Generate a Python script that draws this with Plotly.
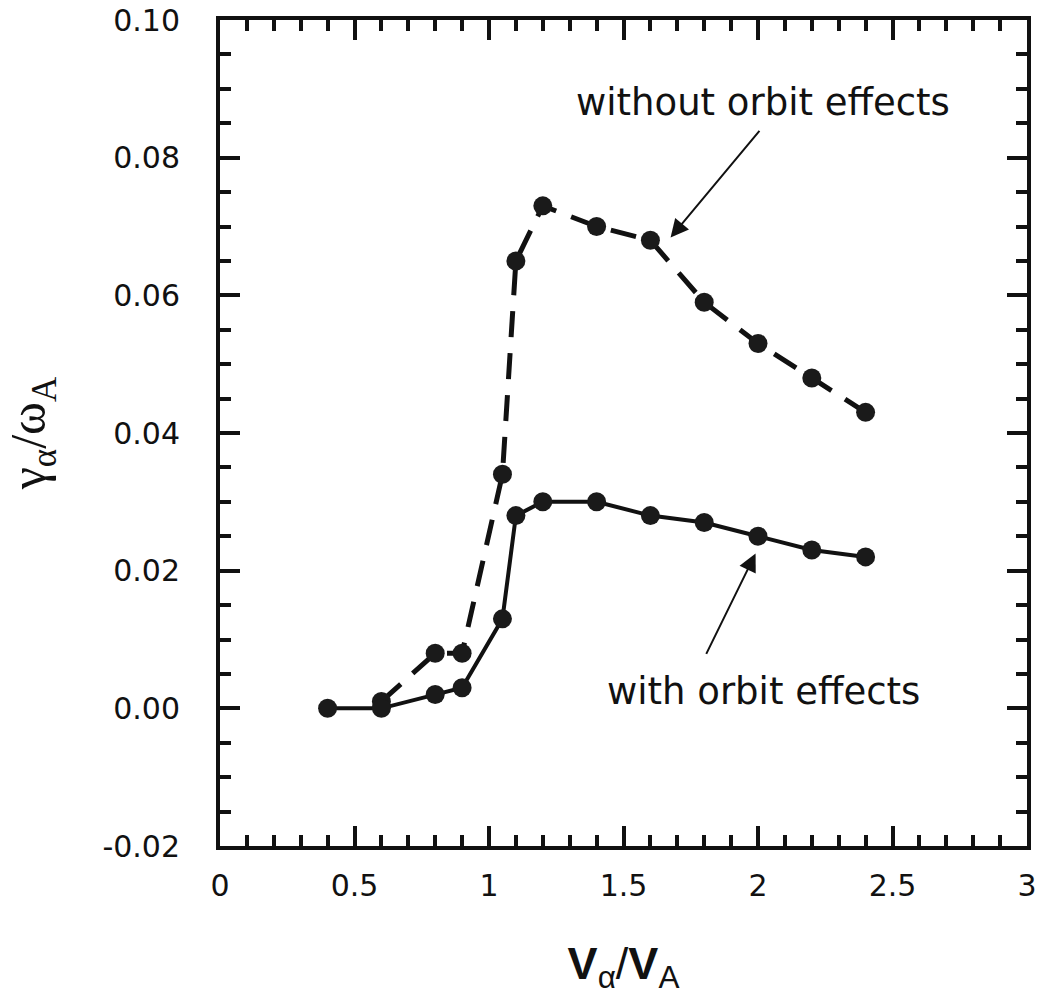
import plotly.graph_objects as go

# Data
x_with = [0.4, 0.6, 0.8, 0.9, 1.05, 1.1, 1.2, 1.4, 1.6, 1.8, 2.0, 2.2, 2.4]
y_with = [0.000, 0.000, 0.002, 0.003, 0.013, 0.028, 0.030, 0.030, 0.028, 0.027, 0.025, 0.023, 0.022]

x_without = [0.6, 0.8, 0.9, 1.05, 1.1, 1.2, 1.4, 1.6, 1.8, 2.0, 2.2, 2.4]
y_without = [0.001, 0.008, 0.008, 0.034, 0.065, 0.073, 0.070, 0.068, 0.059, 0.053, 0.048, 0.043]

x_ticks = [0, 0.5, 1, 1.5, 2, 2.5, 3]
x_ticklabels = ["0", "0.5", "1", "1.5", "2", "2.5", "3"]
y_ticks = [-0.02, 0.00, 0.02, 0.04, 0.06, 0.08, 0.10]
y_ticklabels = ["-0.02", "0.00", "0.02", "0.04", "0.06", "0.08", "0.10"]

fig = go.Figure()

fig.add_trace(go.Scatter(
    x=x_without, y=y_without, mode="lines+markers",
    line=dict(color="#111111", width=5, dash="26px,16px"),
    marker=dict(symbol="circle", size=19, color="#1a1a1a"),
    showlegend=False, name="without orbit effects"))

fig.add_trace(go.Scatter(
    x=x_with, y=y_with, mode="lines+markers",
    line=dict(color="#111111", width=4),
    marker=dict(symbol="circle", size=19, color="#1a1a1a"),
    showlegend=False, name="with orbit effects"))

tickfont = dict(family="DejaVu Sans", size=30, color="#111111")

fig.update_xaxes(
    range=[0, 3], tickvals=x_ticks, ticktext=x_ticklabels,
    showline=True, linewidth=4, linecolor="#111111", mirror="allticks",
    ticks="inside", ticklen=20, tickwidth=4, tickcolor="#111111",
    minor=dict(dtick=0.1, ticks="inside", ticklen=11, tickwidth=4, tickcolor="#111111"),
    showgrid=False, zeroline=False, tickfont=tickfont, ticklabelstandoff=10,
    ticklabeloverflow="allow", automargin=False,
    title=dict(text="<b>V</b><sub>α</sub>/<b>V</b><sub>A</sub>",
               font=dict(family="Liberation Sans", size=45, color="#111111"),
               standoff=46),
)
fig.update_yaxes(
    range=[-0.02, 0.10], tickvals=y_ticks, ticktext=y_ticklabels,
    showline=True, linewidth=4, linecolor="#111111", mirror="allticks",
    ticks="inside", ticklen=20, tickwidth=4, tickcolor="#111111",
    minor=dict(dtick=0.005, ticks="inside", ticklen=11, tickwidth=4, tickcolor="#111111"),
    showgrid=False, zeroline=False, tickfont=tickfont, ticklabelstandoff=30,
    ticklabeloverflow="allow", automargin=False,
    title=dict(text="γ<sub>α</sub>/ω<sub>A</sub>",
               font=dict(family="Liberation Serif", size=50, color="#111111"),
               standoff=42),
)

annfont = dict(family="DejaVu Sans", size=37, color="#111111")
fig.add_annotation(x=2.017, y=0.088, xref="x", yref="y", text="without orbit effects",
                   showarrow=False, font=annfont, xanchor="center", yanchor="middle")
fig.add_annotation(x=2.02, y=0.0025, xref="x", yref="y", text="with orbit effects",
                   showarrow=False, font=annfont, xanchor="center", yanchor="middle")
fig.add_annotation(x=1.675, y=0.0684, ax=2.01, ay=0.0841, xref="x", yref="y",
                   axref="x", ayref="y", text="", showarrow=True,
                   arrowhead=2, arrowsize=1.8, arrowwidth=2, arrowcolor="#111111")
fig.add_annotation(x=1.991, y=0.0225, ax=1.805, ay=0.0077, xref="x", yref="y",
                   axref="x", ayref="y", text="", showarrow=True,
                   arrowhead=2, arrowsize=1.8, arrowwidth=2, arrowcolor="#111111")

fig.update_layout(
    width=1041, height=1008,
    margin=dict(l=220, r=14, t=20, b=162),
    paper_bgcolor="white", plot_bgcolor="white",
)

fig.write_html("out.html",
               config={"displayModeBar": False},
               post_script="document.body.style.margin='0';document.body.style.overflow='hidden';")
